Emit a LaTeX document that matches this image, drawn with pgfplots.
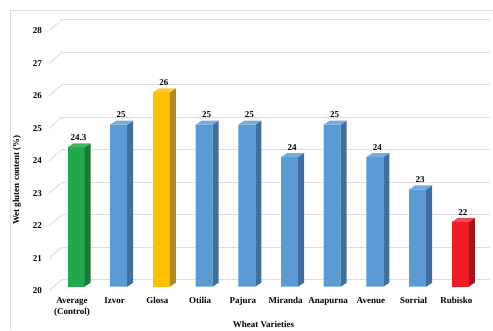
\documentclass[border=0pt]{standalone}
\usepackage{fontspec}
\setmainfont{Liberation Serif}
\usepackage{pgfplots}
\usepackage{pgfplotstable}
\pgfplotsset{compat=1.18}

% face colours: front / side / top
\definecolor{greenF}{HTML}{22A84A}
\definecolor{greenS}{HTML}{187A38}
\definecolor{greenT}{HTML}{3DBA62}
\definecolor{blueF}{HTML}{5B9BD5}
\definecolor{blueS}{HTML}{3F6F9C}
\definecolor{blueT}{HTML}{74AADD}
\definecolor{yellowF}{HTML}{FFC000}
\definecolor{yellowS}{HTML}{B08A22}
\definecolor{yellowT}{HTML}{FFCB33}
\definecolor{redF}{HTML}{EE1C24}
\definecolor{redS}{HTML}{A3151B}
\definecolor{redT}{HTML}{F24A50}
\definecolor{gridgray}{HTML}{DEDEDE}
\definecolor{framegray}{HTML}{DCDCDC}

% wet gluten content (%) per variety, grouped by bar colour
\pgfplotstableread{
x v
0 24.3
}\controldata
\pgfplotstableread{
x v
1 25
3 25
4 25
5 24
6 25
7 24
8 23
}\varietydata
\pgfplotstableread{
x v
2 26
}\glosadata
\pgfplotstableread{
x v
9 22
}\rubiskodata

\pgfplotsset{/pgf/number format/assume math mode=true}

% side and top faces of a bar; the mark sits at the top front centre
\newcommand\declarebarmark[3]{%
  \pgfdeclareplotmark{#1}{%
    \pgfmathsetlengthmacro\barH{(\barval-20)*32.4pt}%
    \pgfpathmoveto{\pgfpoint{8.5pt}{0pt}}%
    \pgfpathlineto{\pgfpoint{14.5pt}{4pt}}%
    \pgfpathlineto{\pgfpoint{14.5pt}{4pt-\barH}}%
    \pgfpathlineto{\pgfpoint{8.5pt}{-\barH}}%
    \pgfpathclose
    \pgfsetfillcolor{#2}\pgfusepath{fill}%
    \pgfpathmoveto{\pgfpoint{-8.5pt}{0pt}}%
    \pgfpathlineto{\pgfpoint{8.5pt}{0pt}}%
    \pgfpathlineto{\pgfpoint{14.5pt}{4pt}}%
    \pgfpathlineto{\pgfpoint{-2.5pt}{4pt}}%
    \pgfpathclose
    \pgfsetfillcolor{#3}\pgfusepath{fill}%
  }}
\declarebarmark{bar3d-g}{greenS}{greenT}
\declarebarmark{bar3d-b}{blueS}{blueT}
\declarebarmark{bar3d-y}{yellowS}{yellowT}
\declarebarmark{bar3d-r}{redS}{redT}

\newcommand\chartfont{\bfseries\fontsize{9}{10.7}\selectfont}

\begin{document}
\begin{tikzpicture}
\useasboundingbox (0,0) rectangle (493pt,330pt);
\draw[framegray, line width=0.8pt] (10.5pt,0pt) -- (10.5pt,319.5pt) -- (493pt,319.5pt);

% back wall with the value grid
\begin{axis}[
  at={(62pt,50.5pt)}, anchor=south west,
  scale only axis, width=428pt, height=260pt,
  xmin=0, xmax=1, ymin=20, ymax=28,
  xtick=\empty, ytick={20,21,...,28},
  axis line style={draw=none}, tick style={draw=none},
  major tick length=0pt,
  ymajorgrids, grid style={gridgray, line width=0.9pt},
  clip=false,
  yticklabel style={font=\chartfont, anchor=east, inner sep=0pt,
    xshift=-20pt, yshift=-11.5pt},
  ylabel={Wet gluten content (\%)},
  every axis y label/.style={at={(rel axis cs:0,0.5)}, anchor=center,
    xshift=-45pt, yshift=-30.5pt, rotate=90, font=\chartfont},
]
\pgfplotsinvokeforeach{20,21,...,28}{
  \draw[gridgray, line width=0.9pt] (axis cs:0,#1) -- ++(-13pt,-11.5pt);
}
\end{axis}

% bars
\begin{axis}[
  at={(62pt,43.3pt)}, anchor=south west,
  x=42.7pt, y=32.4pt,
  xmin=-0.328, xmax=9.695, ymin=20, ymax=28,
  axis line style={draw=none}, tick style={draw=none},
  major tick length=0pt,
  ytick=\empty,
  xtick={0,1,...,9},
  xticklabels={{Average\\(Control)},Izvor,Glosa,Otilia,Pajura,Miranda,Anapurna,Avenue,Sorrial,Rubisko},
  xticklabel style={font=\chartfont, anchor=north, inner sep=0pt,
    align=center, yshift=-10.5pt, xshift=-4pt},
  xlabel={Wheat Varieties},
  every axis x label/.style={at={(rel axis cs:0.5,0)}, anchor=center,
    xshift=-12.5pt, yshift=-37.3pt, font=\chartfont},
  every node near coord/.append style={font=\chartfont, anchor=south,
    inner sep=0pt, xshift=2.5pt, yshift=6.5pt, text=black},
  front face/.style={ybar, bar width=17pt, bar shift=0pt,
    fill=#1, draw=none, nodes near coords},
  side faces/.style={only marks, mark=bar3d-#1,
    visualization depends on={\thisrow{v} \as \barval}},
]
\addplot[front face=greenF] table[x=x,y=v]{\controldata};
\addplot[side faces=g] table[x=x,y=v]{\controldata};
\addplot[front face=blueF] table[x=x,y=v]{\varietydata};
\addplot[side faces=b] table[x=x,y=v]{\varietydata};
\addplot[front face=yellowF] table[x=x,y=v]{\glosadata};
\addplot[side faces=y] table[x=x,y=v]{\glosadata};
\addplot[front face=redF] table[x=x,y=v]{\rubiskodata};
\addplot[side faces=r] table[x=x,y=v]{\rubiskodata};
\end{axis}
\end{tikzpicture}
\end{document}
